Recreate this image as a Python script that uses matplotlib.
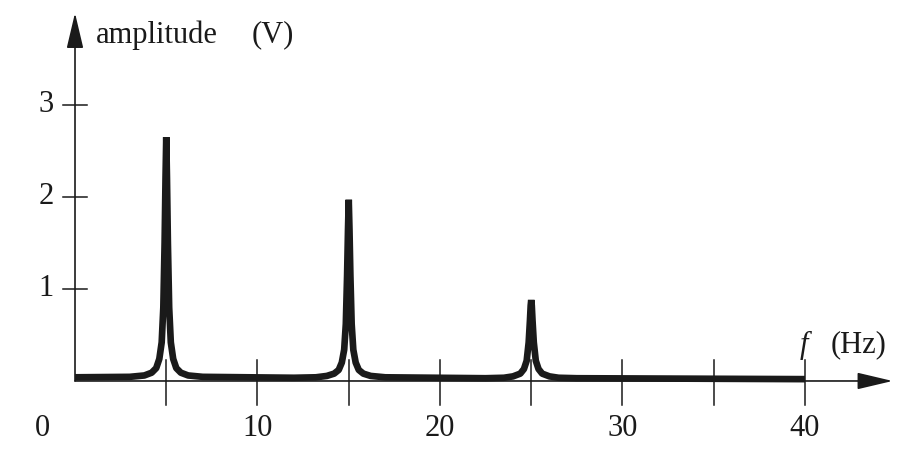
import numpy as np
import matplotlib.pyplot as plt

plt.rcParams['font.family'] = ['Liberation Serif', 'DejaVu Serif']

# spectrum (frequency in Hz, amplitude in V)
freq = [0.0, 3.0, 3.8, 4.2, 4.45, 4.62, 4.75, 4.84, 4.91, 4.96, 5.0,
        5.04, 5.09, 5.16, 5.25, 5.38, 5.55, 5.8, 6.2, 7.0,
        12.0, 13.2, 13.8, 14.2, 14.45, 14.62, 14.75, 14.84, 14.91, 14.96, 15.0,
        15.04, 15.09, 15.16, 15.25, 15.38, 15.55, 15.8, 16.2, 17.0,
        22.5, 23.5, 24.0, 24.4, 24.6, 24.75, 24.86, 24.93, 24.97, 25.0,
        25.03, 25.07, 25.14, 25.25, 25.4, 25.6, 26.0, 26.5, 27.5, 40.0]
amp = [0.04, 0.045, 0.06, 0.09, 0.14, 0.24, 0.42, 0.8, 1.5, 2.2, 2.65,
       2.2, 1.5, 0.8, 0.42, 0.24, 0.14, 0.09, 0.06, 0.045,
       0.035, 0.04, 0.055, 0.08, 0.12, 0.2, 0.34, 0.62, 1.15, 1.65, 1.97,
       1.65, 1.15, 0.62, 0.34, 0.2, 0.12, 0.08, 0.055, 0.04,
       0.03, 0.035, 0.05, 0.08, 0.13, 0.22, 0.42, 0.66, 0.82, 0.88,
       0.82, 0.66, 0.42, 0.22, 0.13, 0.08, 0.05, 0.035, 0.03, 0.02]

x_ticks = [5, 10, 15, 20, 25, 30, 35, 40]
x_labels = ['0', '10', '20', '30', '40']
x_label_pos = [-1.8, 10, 20, 30, 40]
y_ticks = [1, 2, 3]

fig = plt.figure(figsize=(9.11, 4.59), dpi=100)
ax = fig.add_axes([0, 0, 1, 1])
ax.set_xlim(-4.11, 45.81)
ax.set_ylim(-0.848, 4.141)
ax.axis('off')

ink = '#1a1a1a'
fs = 22

# axes with arrows
head = '-|>,head_length=1.1,head_width=0.26'
ax.annotate('', xy=(44.8, 0), xytext=(0, 0),
            arrowprops=dict(arrowstyle=head, lw=1.2, color=ink,
                            mutation_scale=20, shrinkA=0, shrinkB=0))
ax.annotate('', xy=(0, 4.0), xytext=(0, 0),
            arrowprops=dict(arrowstyle=head, lw=1.2, color=ink,
                            mutation_scale=20, shrinkA=0, shrinkB=0))

for t in x_ticks:
    ax.plot([t, t], [-0.26, 0.23], color=ink, lw=1.1)
for t in y_ticks:
    ax.plot([-0.65, 0.65], [t, t], color=ink, lw=1.1)

ax.plot(freq, amp, color=ink, lw=4.8, solid_capstyle='butt', solid_joinstyle='bevel')

for p, s in zip(x_label_pos, x_labels):
    ax.text(p, -0.52, s, ha='center', va='center', fontsize=fs, color=ink)
for t in y_ticks:
    ax.text(-1.6, t, str(t), ha='center', va='center', fontsize=fs, color=ink)

ax.text(1.15, 3.76, 'amplitude', ha='left', va='center', fontsize=fs, color=ink)
ax.text(9.7, 3.76, '(V)', ha='left', va='center', fontsize=fs, color=ink)
ax.text(39.7, 0.39, 'f', ha='left', va='center', fontsize=fs, color=ink, fontstyle='italic')
ax.text(41.4, 0.39, '(Hz)', ha='left', va='center', fontsize=fs, color=ink)

fig.savefig('out.png', dpi=100)
